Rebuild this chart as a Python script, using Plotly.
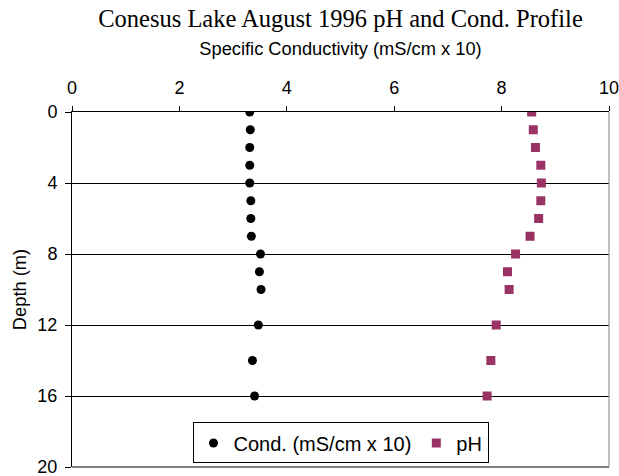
import plotly.graph_objects as go

depth = [0, 1, 2, 3, 4, 5, 6, 7, 8, 9, 10, 12, 14, 16]
cond = [3.31, 3.32, 3.31, 3.31, 3.31, 3.33, 3.33, 3.34, 3.51, 3.49, 3.52, 3.47, 3.36, 3.40]
ph = [8.56, 8.59, 8.63, 8.73, 8.74, 8.73, 8.69, 8.53, 8.26, 8.11, 8.14, 7.90, 7.80, 7.73]

fig = go.Figure()
fig.add_trace(go.Scatter(x=cond, y=depth, mode="markers", name="Cond. (mS/cm x 10)",
                         marker=dict(symbol="circle", size=9, color="black")))
fig.add_trace(go.Scatter(x=ph, y=depth, mode="markers", name="pH",
                         marker=dict(symbol="square", size=9, color="#993366")))

# right and bottom frame lines (gray)
fig.add_shape(type="line", xref="paper", yref="paper", x0=1, x1=1, y0=0, y1=1,
              line=dict(color="#808080", width=1))
fig.add_shape(type="line", xref="paper", yref="paper", x0=0, x1=1, y0=0, y1=0,
              line=dict(color="#808080", width=2))

fig.update_layout(
    width=619, height=476,
    margin=dict(l=72, r=10, t=112, b=9),
    paper_bgcolor="white", plot_bgcolor="white",
    title=dict(text="Conesus Lake August 1996 pH and Cond. Profile",
               font=dict(family="Liberation Serif", size=24.5, color="black"),
               x=0.5, xanchor="center", y=0.962, yanchor="middle", xref="paper"),
    font=dict(family="Liberation Sans", size=18, color="black"),
    xaxis=dict(side="top", range=[0, 10], dtick=2, showgrid=False,
               showline=True, linecolor="black", linewidth=1,
               ticks="outside", ticklen=5, tickcolor="black",
               ticklabelstandoff=5, automargin=False, ticklabeloverflow="allow",
               title=dict(text="Specific Conductivity (mS/cm x 10)", standoff=17,
                          font=dict(size=18.3)),
               zeroline=False, tickfont=dict(size=18)),
    yaxis=dict(range=[20, 0], dtick=4, showgrid=True, gridcolor="#000000", gridwidth=1,
               showline=True, linecolor="black", linewidth=1,
               ticks="outside", ticklen=6, tickcolor="black",
               ticklabelstandoff=4, automargin=False, ticklabeloverflow="allow",
               title=dict(text="Depth (m)", font=dict(size=18.3), standoff=5),
               zeroline=False, tickfont=dict(size=18)),
    legend=dict(orientation="h", x=0.5, xanchor="center", y=0.01, yanchor="bottom",
                bordercolor="black", borderwidth=1, bgcolor="white",
                font=dict(size=20), itemwidth=30, tracegroupgap=0),
    showlegend=True,
)
fig.write_html("out.html", config={"displayModeBar": False},
               post_script="document.body.style.margin='0';document.body.style.overflow='hidden';")
